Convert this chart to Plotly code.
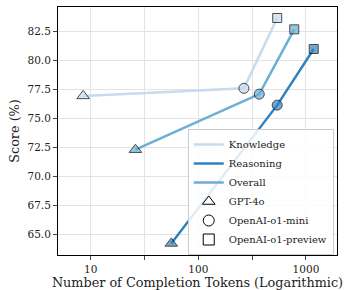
import math
import plotly.graph_objects as go

models = ["GPT-4o", "OpenAI-o1-mini", "OpenAI-o1-preview"]
symbols = ["triangle-up", "circle", "square"]

knowledge_tokens = [8.5, 265, 540]
knowledge_scores = [76.95, 77.6, 83.68]
reasoning_tokens = [56, 540, 1180]
reasoning_scores = [64.2, 76.15, 81.0]
overall_tokens = [26, 368, 778]
overall_scores = [72.3, 77.1, 82.7]

series = [
    ("Knowledge", knowledge_tokens, knowledge_scores, "#c6dbef"),
    ("Reasoning", reasoning_tokens, reasoning_scores, "#3182bd"),
    ("Overall", overall_tokens, overall_scores, "#6baed6"),
]

y_ticks = [65.0, 67.5, 70.0, 72.5, 75.0, 77.5, 80.0, 82.5]
x_ticks = [10, 10**1.5, 100, 10**2.5, 1000]
x_ticktext = ["10", "", "100", "", "1000"]

FONT = "'DejaVu Serif', 'Liberation Serif', serif"
fig = go.Figure()

for name, xs, ys, col in series:
    fig.add_trace(go.Scatter(x=xs, y=ys, mode="lines", name=name,
                             line=dict(color=col, width=2.5), showlegend=True))
for name, xs, ys, col in series:
    fig.add_trace(go.Scatter(x=xs, y=ys, mode="markers", showlegend=False,
                             marker=dict(symbol=symbols, size=[11, 10, 9], color=col,
                                         line=dict(color="black", width=1))))
for m, s in zip(models, symbols):
    fig.add_trace(go.Scatter(x=[None], y=[None], mode="markers", name=m,
                             marker=dict(symbol=s, size=11, color="white",
                                         line=dict(color="black", width=1))))

fig.update_layout(
    width=345, height=290,
    margin=dict(l=58, r=8, t=7, b=35),
    plot_bgcolor="white", paper_bgcolor="white",
    font=dict(family=FONT, size=10, color="#222"),
    legend=dict(x=0.465, y=0.0, xanchor="left", yanchor="bottom",
                bgcolor="rgba(255,255,255,0.85)", bordercolor="#cccccc", borderwidth=1,
                font=dict(size=10, family=FONT), tracegroupgap=0, itemwidth=30),
    xaxis=dict(type="log", range=[math.log10(4.96), math.log10(1942)],
               tickvals=x_ticks, ticktext=x_ticktext, ticks="outside", ticklen=4,
               tickfont=dict(family=FONT, size=10.5),
               showgrid=True, gridcolor="#e3e3e3", gridwidth=1,
               showline=True, linecolor="black", linewidth=1, mirror=True,
               automargin=False,
               title=dict(text="Number of Completion Tokens (Logarithmic)",
                          font=dict(size=12.8, family=FONT), standoff=1),
               zeroline=False),
    yaxis=dict(range=[63.2, 84.63], tickvals=y_ticks, tickformat=".1f",
               ticks="outside", ticklen=4, automargin=False,
               tickfont=dict(family=FONT, size=10.5),
               showgrid=True, gridcolor="#e3e3e3", gridwidth=1,
               showline=True, linecolor="black", linewidth=1, mirror=True,
               title=dict(text="Score (%)", font=dict(size=12.8, family=FONT), standoff=5),
               zeroline=False),
)

fig.write_html("out.html", config={"displayModeBar": False},
               post_script="document.body.style.margin='0';")
